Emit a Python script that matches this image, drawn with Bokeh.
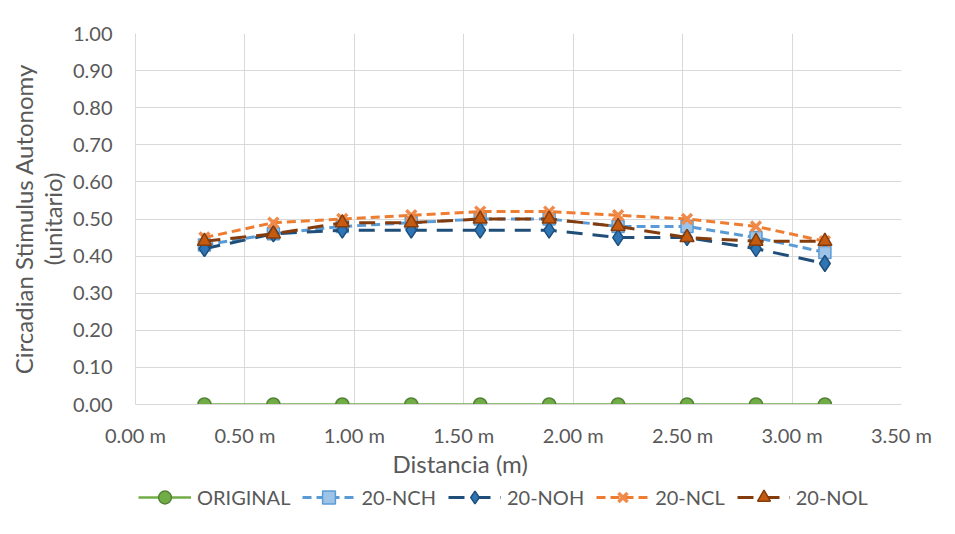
from bokeh.plotting import figure
from bokeh.layouts import column
from bokeh.models import (Range1d, FixedTicker, NumeralTickFormatter, Legend, LegendItem, Label)
from bokeh.embed import file_html
from bokeh.resources import INLINE

# ---- data ----
distance_m = [0.315, 0.63, 0.945, 1.26, 1.575, 1.89, 2.205, 2.52, 2.835, 3.15]
original = [0.0, 0.0, 0.0, 0.0, 0.0, 0.0, 0.0, 0.0, 0.0, 0.0]
nch = [0.43, 0.46, 0.48, 0.49, 0.50, 0.50, 0.48, 0.48, 0.45, 0.41]
noh = [0.42, 0.46, 0.47, 0.47, 0.47, 0.47, 0.45, 0.45, 0.42, 0.38]
ncl = [0.45, 0.49, 0.50, 0.51, 0.52, 0.52, 0.51, 0.50, 0.48, 0.44]
nol = [0.44, 0.46, 0.49, 0.49, 0.50, 0.50, 0.48, 0.45, 0.44, 0.44]
series_names = ["ORIGINAL", "20-NCH", "20-NOH", "20-NCL", "20-NOL"]

x_ticks = [0.0, 0.5, 1.0, 1.5, 2.0, 2.5, 3.0, 3.5]
x_tick_labels = ["0.00 m", "0.50 m", "1.00 m", "1.50 m", "2.00 m", "2.50 m", "3.00 m", "3.50 m"]
y_ticks = [0.0, 0.1, 0.2, 0.3, 0.4, 0.5, 0.6, 0.7, 0.8, 0.9, 1.0]
x_title = "Distancia (m)"
y_title = "Circadian Stimulus Autonomy\n(unitario)"

FONT = "Lato"
TXT = "#595959"
GRID = "#D9D9D9"

styles = [
    dict(line_color="#70AD47", line_width=2.5, line_dash="solid",
         marker="circle", size=13, fill_color="#70AD47", mline="#548235", mwidth=1.5),
    dict(line_color="#5B9BD5", line_width=3, line_dash="9 5",
         marker="square", size=12, fill_color="#9DC3E6", mline="#5B9BD5", mwidth=1.5),
    dict(line_color="#1F4E79", line_width=3, line_dash="16 10",
         marker="diamond", size=16, fill_color="#2E75B6", mline="#1F4E79", mwidth=1.5),
    dict(line_color="#ED7D31", line_width=3, line_dash="9 5",
         marker="x", size=14, fill_color=None, mline="#F08A4B", mwidth=3.5),
    dict(line_color="#843C0C", line_width=3, line_dash="16 10",
         marker="triangle", size=14, fill_color="#C55A11", mline="#843C0C", mwidth=1.5),
]
series_values = [original, nch, noh, ncl, nol]

# ---------------- main chart ----------------
H1 = 449
FL, FR = 135, 901   # frame edges in page pixels
p = figure(width=955, height=H1, output_backend="svg", toolbar_location=None,
           x_range=Range1d(0, 3.5), y_range=Range1d(0, 1.0),
           min_border_left=FL, min_border_right=955 - FR, min_border_top=33,
           min_border_bottom=H1 - 407)
p.outline_line_color = None
p.background_fill_color = "white"
p.border_fill_color = "white"

p.xaxis.ticker = FixedTicker(ticks=x_ticks)
p.xaxis.major_label_overrides = {float(t): lab for t, lab in zip(x_ticks, x_tick_labels)}
p.yaxis.ticker = FixedTicker(ticks=y_ticks)
p.yaxis.formatter = NumeralTickFormatter(format="0.00")
for ax in (p.xaxis[0], p.yaxis[0]):
    ax.axis_line_color = GRID
    ax.axis_line_width = 1
    ax.major_tick_line_color = None
    ax.minor_tick_line_color = None
    ax.major_tick_out = 0
    ax.major_tick_in = 0
    ax.major_label_text_font = FONT
    ax.major_label_text_font_size = "20px"
    ax.major_label_text_color = TXT
p.xaxis.major_label_standoff = 18
p.yaxis.major_label_standoff = 23
p.yaxis.axis_label = y_title
p.yaxis.axis_label_standoff = 3
p.yaxis.axis_label_text_line_height = 1.0
p.yaxis.axis_label_text_font = FONT
p.yaxis.axis_label_text_font_size = "24px"
p.yaxis.axis_label_text_color = TXT
p.yaxis.axis_label_text_font_style = "normal"

p.xgrid.ticker = FixedTicker(ticks=x_ticks)
p.ygrid.ticker = FixedTicker(ticks=y_ticks)
p.grid.grid_line_color = GRID
p.grid.grid_line_width = 1

for vals, st in zip(series_values, styles):
    p.line(distance_m, vals, line_color=st["line_color"], line_width=st["line_width"],
           line_dash=st["line_dash"])
    p.scatter(distance_m, vals, marker=st["marker"], size=st["size"],
              fill_color=st["fill_color"], line_color=st["mline"], line_width=st["mwidth"])

# ---------------- bottom strip: x title + legend ----------------
# its frame is aligned with the main frame (FL..FR); ranges map 1 unit = 1 page pixel
H2 = 534 - H1
p2 = figure(width=955, height=H2, output_backend="svg", toolbar_location=None,
            x_range=Range1d(FL, FR), y_range=Range1d(534, H1),
            x_axis_location=None, y_axis_location=None,
            min_border_left=FL, min_border_right=955 - FR, min_border_top=0, min_border_bottom=0)
p2.outline_line_color = None
p2.grid.visible = False
p2.background_fill_color = "white"
p2.border_fill_color = "white"

p2.add_layout(Label(x=392, y=463, text=x_title, text_align="left", text_baseline="middle",
                    text_font=FONT, text_font_size="24px", text_color=TXT))

# legend proxies: same series, plotted in this strip's pixel space (off the visible frame)
items = []
for name, vals, st in zip(series_names, series_values, styles):
    rl = p2.line(distance_m, vals, line_color=st["line_color"], line_width=st["line_width"],
                 line_dash=st["line_dash"])
    rm = p2.scatter(distance_m, vals, marker=st["marker"], size=st["size"],
                    fill_color=st["fill_color"], line_color=st["mline"], line_width=st["mwidth"])
    items.append(LegendItem(label=name, renderers=[rl, rm]))

legend = Legend(items=items, orientation="horizontal", location=(138 - FL, 534 - 513),
                glyph_width=53, glyph_height=32, label_standoff=6, spacing=12,
                padding=0, margin=0, border_line_color=None, background_fill_alpha=0,
                label_text_font=FONT, label_text_font_size="20px", label_text_color=TXT)
p2.add_layout(legend, "center")

layout = column(p, p2, spacing=0)
open("out.html", "w").write(file_html(layout, INLINE))
